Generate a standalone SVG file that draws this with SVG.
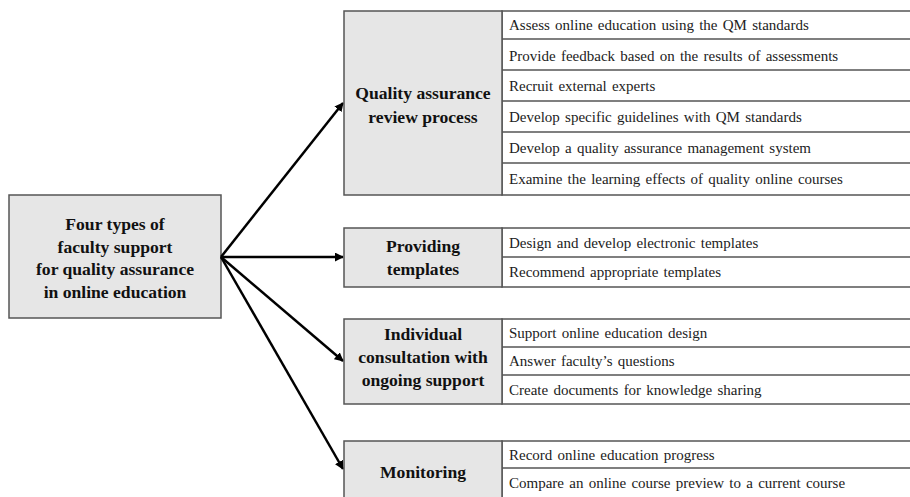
<svg xmlns="http://www.w3.org/2000/svg" width="910" height="497" viewBox="0 0 910 497">
<defs>
<style>
.hdr{fill:#e6e6e6;stroke:#555;stroke-width:1.5}
.row{fill:#fff;stroke:#555;stroke-width:1.5}
.sep{stroke:#555;stroke-width:1.5;fill:none}
.ht{font-family:"Liberation Serif","Times New Roman",serif;font-weight:bold;font-size:17.6px;fill:#111;text-anchor:middle}
.rt{font-family:"Liberation Serif","Times New Roman",serif;font-size:15px;fill:#222;word-spacing:1.5px}
.arr{stroke:#000;stroke-width:2.5;fill:none;marker-end:url(#ah)}
</style>
<marker id="ah" viewBox="0 0 10 10" refX="9" refY="5" markerWidth="3.6" markerHeight="3.6" orient="auto" markerUnits="strokeWidth">
<path d="M0,0 L10,5 L0,10 z" fill="#000"/>
</marker>
</defs>
<rect width="910" height="497" fill="#fff"/>

<g id="root">
<rect class="hdr" x="9" y="195" width="212" height="123"/>
<text class="ht" x="115" y="230">Four types of</text>
<text class="ht" x="115" y="253">faculty support</text>
<text class="ht" x="115" y="275">for quality assurance</text>
<text class="ht" x="115" y="298">in online education</text>
</g>

<g id="connectors">
<line class="arr" x1="221" y1="257" x2="343" y2="103"/>
<line class="arr" x1="221" y1="257" x2="343" y2="257"/>
<line class="arr" x1="221" y1="257" x2="343" y2="361"/>
<line class="arr" x1="221" y1="257" x2="343" y2="469"/>
</g>

<g id="qa-review">
<rect class="row" x="502" y="11" width="410" height="184"/>
<rect class="hdr" x="344" y="11" width="158" height="184"/>
<path class="sep" d="M502,39H912M502,70H912M502,101H912M502,132H912M502,163H912"/>
<text class="ht" x="423" y="99">Quality assurance</text>
<text class="ht" x="423" y="123">review process</text>
<text class="rt" x="509" y="30">Assess online education using the QM standards</text>
<text class="rt" x="509" y="61">Provide feedback based on the results of assessments</text>
<text class="rt" x="509" y="91">Recruit external experts</text>
<text class="rt" x="509" y="122">Develop specific guidelines with QM standards</text>
<text class="rt" x="509" y="153">Develop a quality assurance management system</text>
<text class="rt" x="509" y="184">Examine the learning effects of quality online courses</text>
</g>

<g id="templates">
<rect class="row" x="502" y="228" width="410" height="59"/>
<rect class="hdr" x="344" y="228" width="158" height="59"/>
<path class="sep" d="M502,257H912"/>
<text class="ht" x="423" y="252">Providing</text>
<text class="ht" x="423" y="275">templates</text>
<text class="rt" x="509" y="248">Design and develop electronic templates</text>
<text class="rt" x="509" y="277">Recommend appropriate templates</text>
</g>

<g id="consultation">
<rect class="row" x="502" y="319" width="410" height="85"/>
<rect class="hdr" x="344" y="319" width="158" height="85"/>
<path class="sep" d="M502,347H912M502,375H912"/>
<text class="ht" x="423" y="340">Individual</text>
<text class="ht" x="423" y="363">consultation with</text>
<text class="ht" x="423" y="386">ongoing support</text>
<text class="rt" x="509" y="338">Support online education design</text>
<text class="rt" x="509" y="366">Answer faculty’s questions</text>
<text class="rt" x="509" y="395">Create documents for knowledge sharing</text>
</g>

<g id="monitoring">
<rect class="row" x="502" y="441" width="410" height="60"/>
<rect class="hdr" x="344" y="441" width="158" height="60"/>
<path class="sep" d="M502,468H912"/>
<text class="ht" x="423" y="478">Monitoring</text>
<text class="rt" x="509" y="460">Record online education progress</text>
<text class="rt" x="509" y="488">Compare an online course preview to a current course</text>
</g>
</svg>
